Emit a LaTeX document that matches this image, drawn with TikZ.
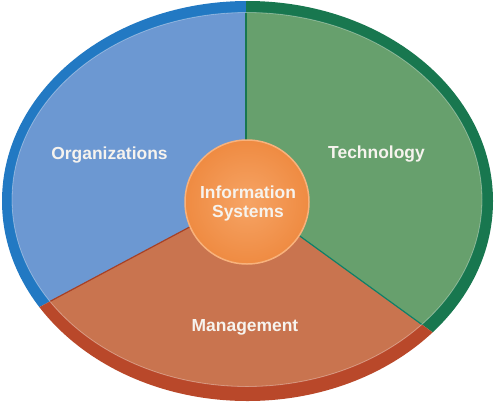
\documentclass[tikz,border=0pt]{standalone}
\usepackage{fontspec}
\setmainfont{Liberation Sans}
\definecolor{bluefill}{HTML}{6C98D2}
\definecolor{bluerim}{HTML}{2279C3}
\definecolor{greenfill}{HTML}{67A06D}
\definecolor{greenrim}{HTML}{18774F}
\definecolor{orangefill}{HTML}{C9744F}
\definecolor{orangerim}{HTML}{B9482A}
\definecolor{ballin}{HTML}{F6A465}
\definecolor{ballout}{HTML}{EF8B42}
\definecolor{ballrim}{HTML}{F8B27C}
\definecolor{txt}{HTML}{F6F3EE}
\tikzset{
  lbl/.style={text=txt, font=\fontsize{17.5}{20}\selectfont\bfseries, anchor=base, inner sep=0pt},
}
\begin{document}
\begin{tikzpicture}[x=1bp,y=1bp]
\useasboundingbox (0,0) rectangle (495,403);
\coordinate (S) at (246,206);
\coordinate (T) at (246,900);
\coordinate (LL) at (-351,-112);
\coordinate (LR) at (792,-190);
% rims
\begin{scope}
  \clip (247.5,202) ellipse [x radius=245.5, y radius=200];
  \fill[bluerim] (S) -- (T) -- (-351,900) -- (LL) -- cycle;
  \fill[greenrim] (S) -- (T) -- (900,900) -- (900,-190) -- (LR) -- cycle;
  \fill[orangerim] (S) -- (LL) -- (-351,-300) -- (900,-300) -- (LR) -- cycle;
\end{scope}
% inner fills
\begin{scope}
  \clip (247,203.5) ellipse [x radius=235, y radius=187];
  \fill[bluefill] (S) -- (T) -- (-351,900) -- (LL) -- cycle;
  \fill[greenfill] (S) -- (T) -- (900,900) -- (900,-190) -- (LR) -- cycle;
  \fill[orangefill] (S) -- (LL) -- (-351,-300) -- (900,-300) -- (LR) -- cycle;
  \draw[greenrim, line width=1.2] (S) -- (T);
  \draw[orangerim!90!black, line width=1.2] (S) -- (LL);
  \draw[greenrim!70!cyan!80!black, line width=1.2] (S) -- (LR);
\end{scope}
\draw[white, opacity=0.35, line width=0.8] (247,203.5) ellipse [x radius=235, y radius=187];
% center ball
\node[circle, minimum size=124bp, inner sep=0pt, draw=ballrim, line width=1.5,
      inner color=ballin, outer color=ballout] (ball) at (247,201) {};
\node[lbl] (info) at (248,205) {Information};
\node[lbl] (sys) at (248,186) {Systems};
\node[lbl] (org) at (109.5,244) {Organizations};
\node[lbl] (tech) at (376.5,245) {Technology};
\node[lbl] (mgmt) at (245,72) {Management};
\end{tikzpicture}
\end{document}
